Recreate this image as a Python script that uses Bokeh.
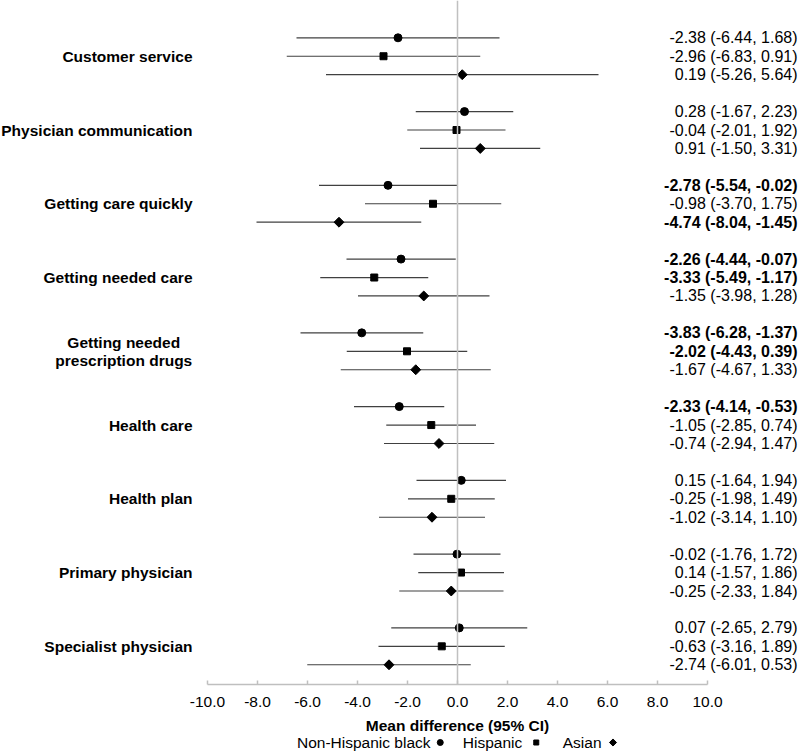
from bokeh.plotting import figure
from bokeh.models import ColumnDataSource, Range1d, FixedTicker, NumeralTickFormatter, Span
from bokeh.layouts import column
from bokeh.core.properties import value
from bokeh.embed import file_html
from bokeh.resources import INLINE
import math

# ---------------- data ----------------
categories = ["Customer service", "Physician communication", "Getting care quickly",
              "Getting needed care", "Getting needed\nprescription drugs", "Health care",
              "Health plan", "Primary physician", "Specialist physician"]

series_names = ["Non-Hispanic black", "Hispanic", "Asian"]

nhb_est = [-2.38, 0.28, -2.78, -2.26, -3.83, -2.33, 0.15, -0.02, 0.07]
nhb_lo = [-6.44, -1.67, -5.54, -4.44, -6.28, -4.14, -1.64, -1.76, -2.65]
nhb_hi = [1.68, 2.23, -0.02, -0.07, -1.37, -0.53, 1.94, 1.72, 2.79]
nhb_bold = [0, 0, 1, 1, 1, 1, 0, 0, 0]

hisp_est = [-2.96, -0.04, -0.98, -3.33, -2.02, -1.05, -0.25, 0.14, -0.63]
hisp_lo = [-6.83, -2.01, -3.70, -5.49, -4.43, -2.85, -1.98, -1.57, -3.16]
hisp_hi = [0.91, 1.92, 1.75, -1.17, 0.39, 0.74, 1.49, 1.86, 1.89]
hisp_bold = [0, 0, 0, 1, 1, 0, 0, 0, 0]

asian_est = [0.19, 0.91, -4.74, -1.35, -1.67, -0.74, -1.02, -0.25, -2.74]
asian_lo = [-5.26, -1.50, -8.04, -3.98, -4.67, -2.94, -3.14, -2.33, -6.01]
asian_hi = [5.64, 3.31, -1.45, 1.28, 1.33, 1.47, 1.10, 1.84, 0.53]
asian_bold = [0, 0, 1, 0, 0, 0, 0, 0, 0]

x_ticks = [-10, -8, -6, -4, -2, 0, 2, 4, 6, 8, 10]
x_title = "Mean difference (95% CI)"

# ---------------- layout constants ----------------
FONT = "Liberation Sans"
X_LEFT, X_RIGHT = -18.28, 13.72
LABEL_X = -10.6
MULTI_LABEL_X = -13.35
STAT_X = 13.6
LINE_COLOR = "#404040"

p = figure(width=800, height=714,
           x_range=Range1d(X_LEFT, X_RIGHT), y_range=Range1d(35.07, -2.023),
           output_backend="svg", toolbar_location=None,
           min_border_left=0, min_border_right=0, min_border_top=0, min_border_bottom=30,
           y_axis_location=None, outline_line_color=None)
p.grid.visible = False
p.background_fill_color = "white"

ax = p.xaxis[0]
ax.bounds = (-10, 10)
ax.ticker = FixedTicker(ticks=x_ticks, minor_ticks=[])
ax.formatter = NumeralTickFormatter(format="0.0")
ax.axis_line_color = "#bfbfbf"
ax.axis_line_width = 1.5
ax.major_tick_line_color = "#bfbfbf"
ax.major_tick_line_width = 1.5
ax.major_tick_in = 4
ax.major_tick_out = 0
ax.minor_tick_line_color = None
ax.major_label_text_font = FONT
ax.major_label_text_font_size = "15.5px"
ax.major_label_text_color = "black"
ax.major_label_standoff = 12

p.add_layout(Span(location=0, dimension="height", line_color="#c0c0c0", line_width=1.5))

series = [
    (nhb_est, nhb_lo, nhb_hi, nhb_bold, "circle", 8, 0.0),
    (hisp_est, hisp_lo, hisp_hi, hisp_bold, "square", 7, 0.0),
    (asian_est, asian_lo, asian_hi, asian_bold, "square", 7, math.pi / 4),
]

for j, (est, lo, hi, bold, marker, size, ang) in enumerate(series):
    ys = [i * 4 + j for i in range(len(categories))]
    labels = [f"{e:.2f} ({l:.2f}, {h:.2f})" for e, l, h in zip(est, lo, hi)]
    src = ColumnDataSource(dict(y=ys, est=est, lo=lo, hi=hi, label=labels, bold=bold))
    p.segment(x0="lo", y0="y", x1="hi", y1="y", source=src, line_color=LINE_COLOR, line_width=1.2)
    p.scatter(x="est", y="y", source=src, marker=marker, size=size, angle=ang,
              fill_color="black", line_color="black")
    for b, style in ((0, "normal"), (1, "bold")):
        idx = [k for k in range(len(bold)) if bold[k] == b]
        sub = ColumnDataSource(dict(y=[ys[k] for k in idx], label=[labels[k] for k in idx],
                                    x=[STAT_X] * len(idx)))
        p.text(x="x", y="y", text="label", source=sub, text_align="right", text_baseline="middle",
               text_font=value(FONT), text_font_size=value("16px"),
               text_font_style=value(style), text_color="black")

# category labels
single_x, single_y, single_t = [], [], []
multi_x, multi_y, multi_t = [], [], []
for i, cat in enumerate(categories):
    lines = cat.split("\n")
    mid = i * 4 + 1
    if len(lines) == 1:
        single_x.append(LABEL_X); single_y.append(mid); single_t.append(cat)
    else:
        offs = [-0.45, 0.5]
        for ln, o in zip(lines, offs):
            multi_x.append(MULTI_LABEL_X); multi_y.append(mid + o); multi_t.append(ln)

p.text(x=single_x, y=single_y, text=single_t, text_align="right", text_baseline="middle",
       text_font=value(FONT), text_font_size=value("15.5px"), text_font_style="bold", text_color="black")
p.text(x=multi_x, y=multi_y, text=multi_t, text_align="center", text_baseline="middle",
       text_font=value(FONT), text_font_size=value("15.5px"), text_font_style="bold", text_color="black")

# ---------------- axis title + legend strip ----------------
q = figure(width=800, height=38, x_range=Range1d(X_LEFT, X_RIGHT), y_range=Range1d(0, 38),
           output_backend="svg", toolbar_location=None,
           min_border_left=0, min_border_right=0, min_border_top=0, min_border_bottom=0,
           x_axis_location=None, y_axis_location=None, outline_line_color=None)
q.grid.visible = False
q.text(x=[0], y=[27], text=[x_title], text_align="center", text_baseline="middle",
       text_font=value(FONT), text_font_size=value("15.5px"), text_font_style="bold",
       text_color="black")
leg_text_x = [-1.08, 2.59, 5.76]
leg_mark_x = [-0.69, 3.15, 6.22]
q.text(x=leg_text_x, y=[10] * 3, text=series_names, text_align="right", text_baseline="middle",
       text_font=value(FONT), text_font_size=value("15.5px"), text_color="black")
for k, (est, lo, hi, bold, marker, size, ang) in enumerate(series):
    q.scatter(x=[leg_mark_x[k]], y=[10], marker=marker, size=size - 2, angle=ang,
              fill_color="black", line_color="black")

layout = column(p, q, spacing=0)
open("out.html", "w").write(file_html(layout, INLINE))
